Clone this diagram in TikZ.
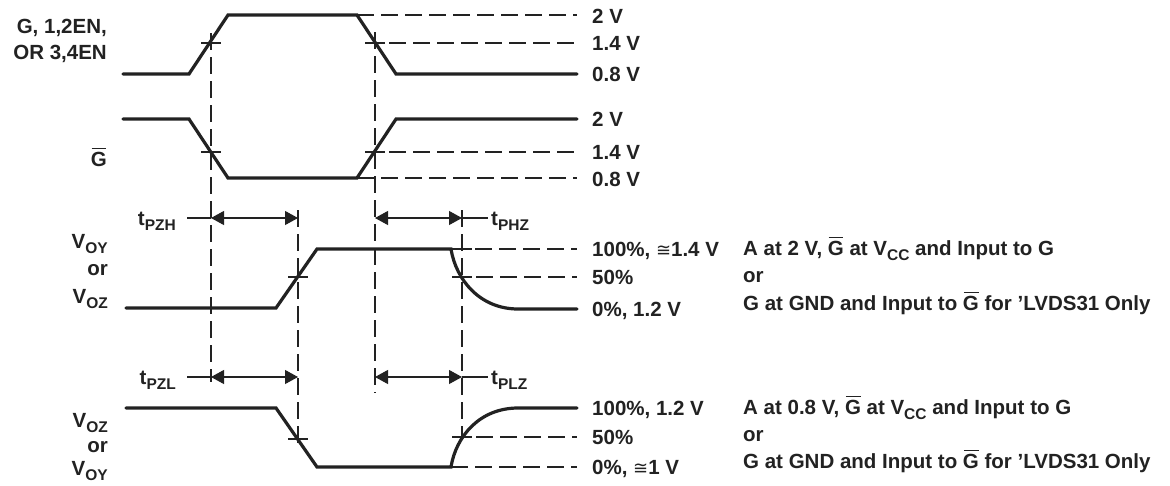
\documentclass[tikz,border=0pt]{standalone}
\usepackage{fontspec}
\setmainfont{Liberation Sans}
\newfontfamily\symfont{DejaVu Sans}
\usetikzlibrary{arrows.meta}
\definecolor{ink}{HTML}{222222}
\newcommand\subs[1]{\raisebox{-0.27em}{\fontsize{15.5}{16}\selectfont #1}}
\newcommand\Gbar{\leavevmode\rlap{\hspace{0.04em}\rule[0.83em]{0.72em}{1.4pt}}G}
\newcommand\congsym{{\symfont\mdseries\fontsize{18}{20}\selectfont ≅}}
\begin{document}
\begin{tikzpicture}[x=1pt,y=-1pt,
  font=\fontsize{20.5}{24}\selectfont\bfseries, color=ink,
  sig/.style={line width=3.2pt, line cap=round},
  guide/.style={line width=1.1pt, dash pattern=on 17pt off 7pt},
  tickmark/.style={line width=1.1pt},
  dim/.style={line width=1.1pt, {Triangle[length=13pt,width=14pt]}-{Triangle[length=13pt,width=14pt]}},
  lbl/.style={anchor=base west, inner sep=0pt},
  lbr/.style={anchor=base east, inner sep=0pt}]
\useasboundingbox[fill=white] (0,0) rectangle (1170,485);

% input signals
\draw[sig] (123,74) -- (189,74) -- (228,15) -- (357,15) -- (396,74) -- (577,74);
\draw[sig] (123,119) -- (189,119) -- (228,178) -- (357,178) -- (396,119) -- (577,119);
\draw[guide] (357,15) -- (577,15);
\draw[guide] (365,43) -- (577,43);
\draw[guide] (365,152) -- (577,152);
\draw[guide] (357,178) -- (577,178);
\foreach \xx/\yy in {211/43,375/43,211/152,375/152,298/277,462/249,462/277,298/439,462/437}
  \draw[tickmark] (\xx-10,\yy) -- (\xx+10,\yy);

% vertical guides
\draw[guide] (211,33) -- (211,382);
\draw[guide] (375,32) -- (375,393);
\draw[guide] (298,210) -- (298,447);
\draw[guide] (462,210) -- (462,440);

% outputs
\draw[sig] (126,308) -- (276,308) -- (317,249) -- (451,249)
  .. controls (456,280) and (480,309) .. (518,309) -- (577,309);
\draw[sig] (126,408) -- (276,408) -- (317,467) -- (451,467)
  .. controls (456,436) and (480,408) .. (518,408) -- (577,408);
\draw[guide] (451,249) -- (577,249);
\draw[guide] (452,277) -- (577,277);
\draw[guide] (452,437) -- (577,437);
\draw[guide] (451,467) -- (577,467);

% timing arrows
\coordinate (a1) at (211,218); \coordinate (a2) at (298,218);
\coordinate (a3) at (375,218); \coordinate (a4) at (462,218);
\coordinate (b1) at (211,377); \coordinate (b2) at (298,377);
\coordinate (b3) at (375,377); \coordinate (b4) at (462,377);
\coordinate (e1) at (187,218); \coordinate (e2) at (488,218);
\coordinate (e3) at (187,377); \coordinate (e4) at (488,377);
\draw[tickmark] (e1) -- (a1); \draw[dim] (a1) -- (a2);
\draw[dim] (a3) -- (a4); \draw[tickmark] (a4) -- (e2);
\draw[tickmark] (e3) -- (b1); \draw[dim] (b1) -- (b2);
\draw[dim] (b3) -- (b4); \draw[tickmark] (b4) -- (e4);
\node[lbr] (tpzh) at (176,225) {t\subs{PZH}};
\node[lbr] (tpzl) at (176,384) {t\subs{PZL}};
\node[lbl] (tphz) at (491,225) {t\subs{PHZ}};
\node[lbl] (tplz) at (491,384) {t\subs{PLZ}};

% left labels
\node[lbr] (lg1) at (107,33) {G, 1,2EN,};
\node[lbr] (lg2) at (107,59) {OR 3,4EN};
\node[lbr] (lgb) at (107,166) {\Gbar};
\node[lbr] (lo1) at (108,248) {V\subs{OY}};
\node[lbr] (lo2) at (108,275) {or};
\node[lbr] (lo3) at (108,303) {V\subs{OZ}};
\node[lbr] (lo4) at (108,427) {V\subs{OZ}};
\node[lbr] (lo5) at (108,452) {or};
\node[lbr] (lo6) at (108,475) {V\subs{OY}};

% level labels
\node[lbl] (v1) at (592,23) {2 V};
\node[lbl] (v2) at (592,50) {1.4 V};
\node[lbl] (v3) at (592,81) {0.8 V};
\node[lbl] (v4) at (592,126) {2 V};
\node[lbl] (v5) at (592,159) {1.4 V};
\node[lbl] (v6) at (592,186) {0.8 V};
\node[lbl] (p1) at (592,256) {100\%, \congsym1.4 V};
\node[lbl] (p2) at (592,284) {50\%};
\node[lbl] (p3) at (592,316) {0\%, 1.2 V};
\node[lbl] (p4) at (592,415) {100\%, 1.2 V};
\node[lbl] (p5) at (592,444) {50\%};
\node[lbl] (p6) at (592,474) {0\%, \congsym1 V};

% conditions
\node[lbl] (c1) at (743,255) {A at 2 V, \Gbar\ at V\subs{CC} and Input to G};
\node[lbl] (c2) at (743,282) {or};
\node[lbl] (c3) at (743,310) {G at GND and Input to \Gbar\ for ’LVDS31 Only};
\node[lbl] (c4) at (743,414) {A at 0.8 V, \Gbar\ at V\subs{CC} and Input to G};
\node[lbl] (c5) at (743,441) {or};
\node[lbl] (c6) at (743,468) {G at GND and Input to \Gbar\ for ’LVDS31 Only};
\end{tikzpicture}
\end{document}
